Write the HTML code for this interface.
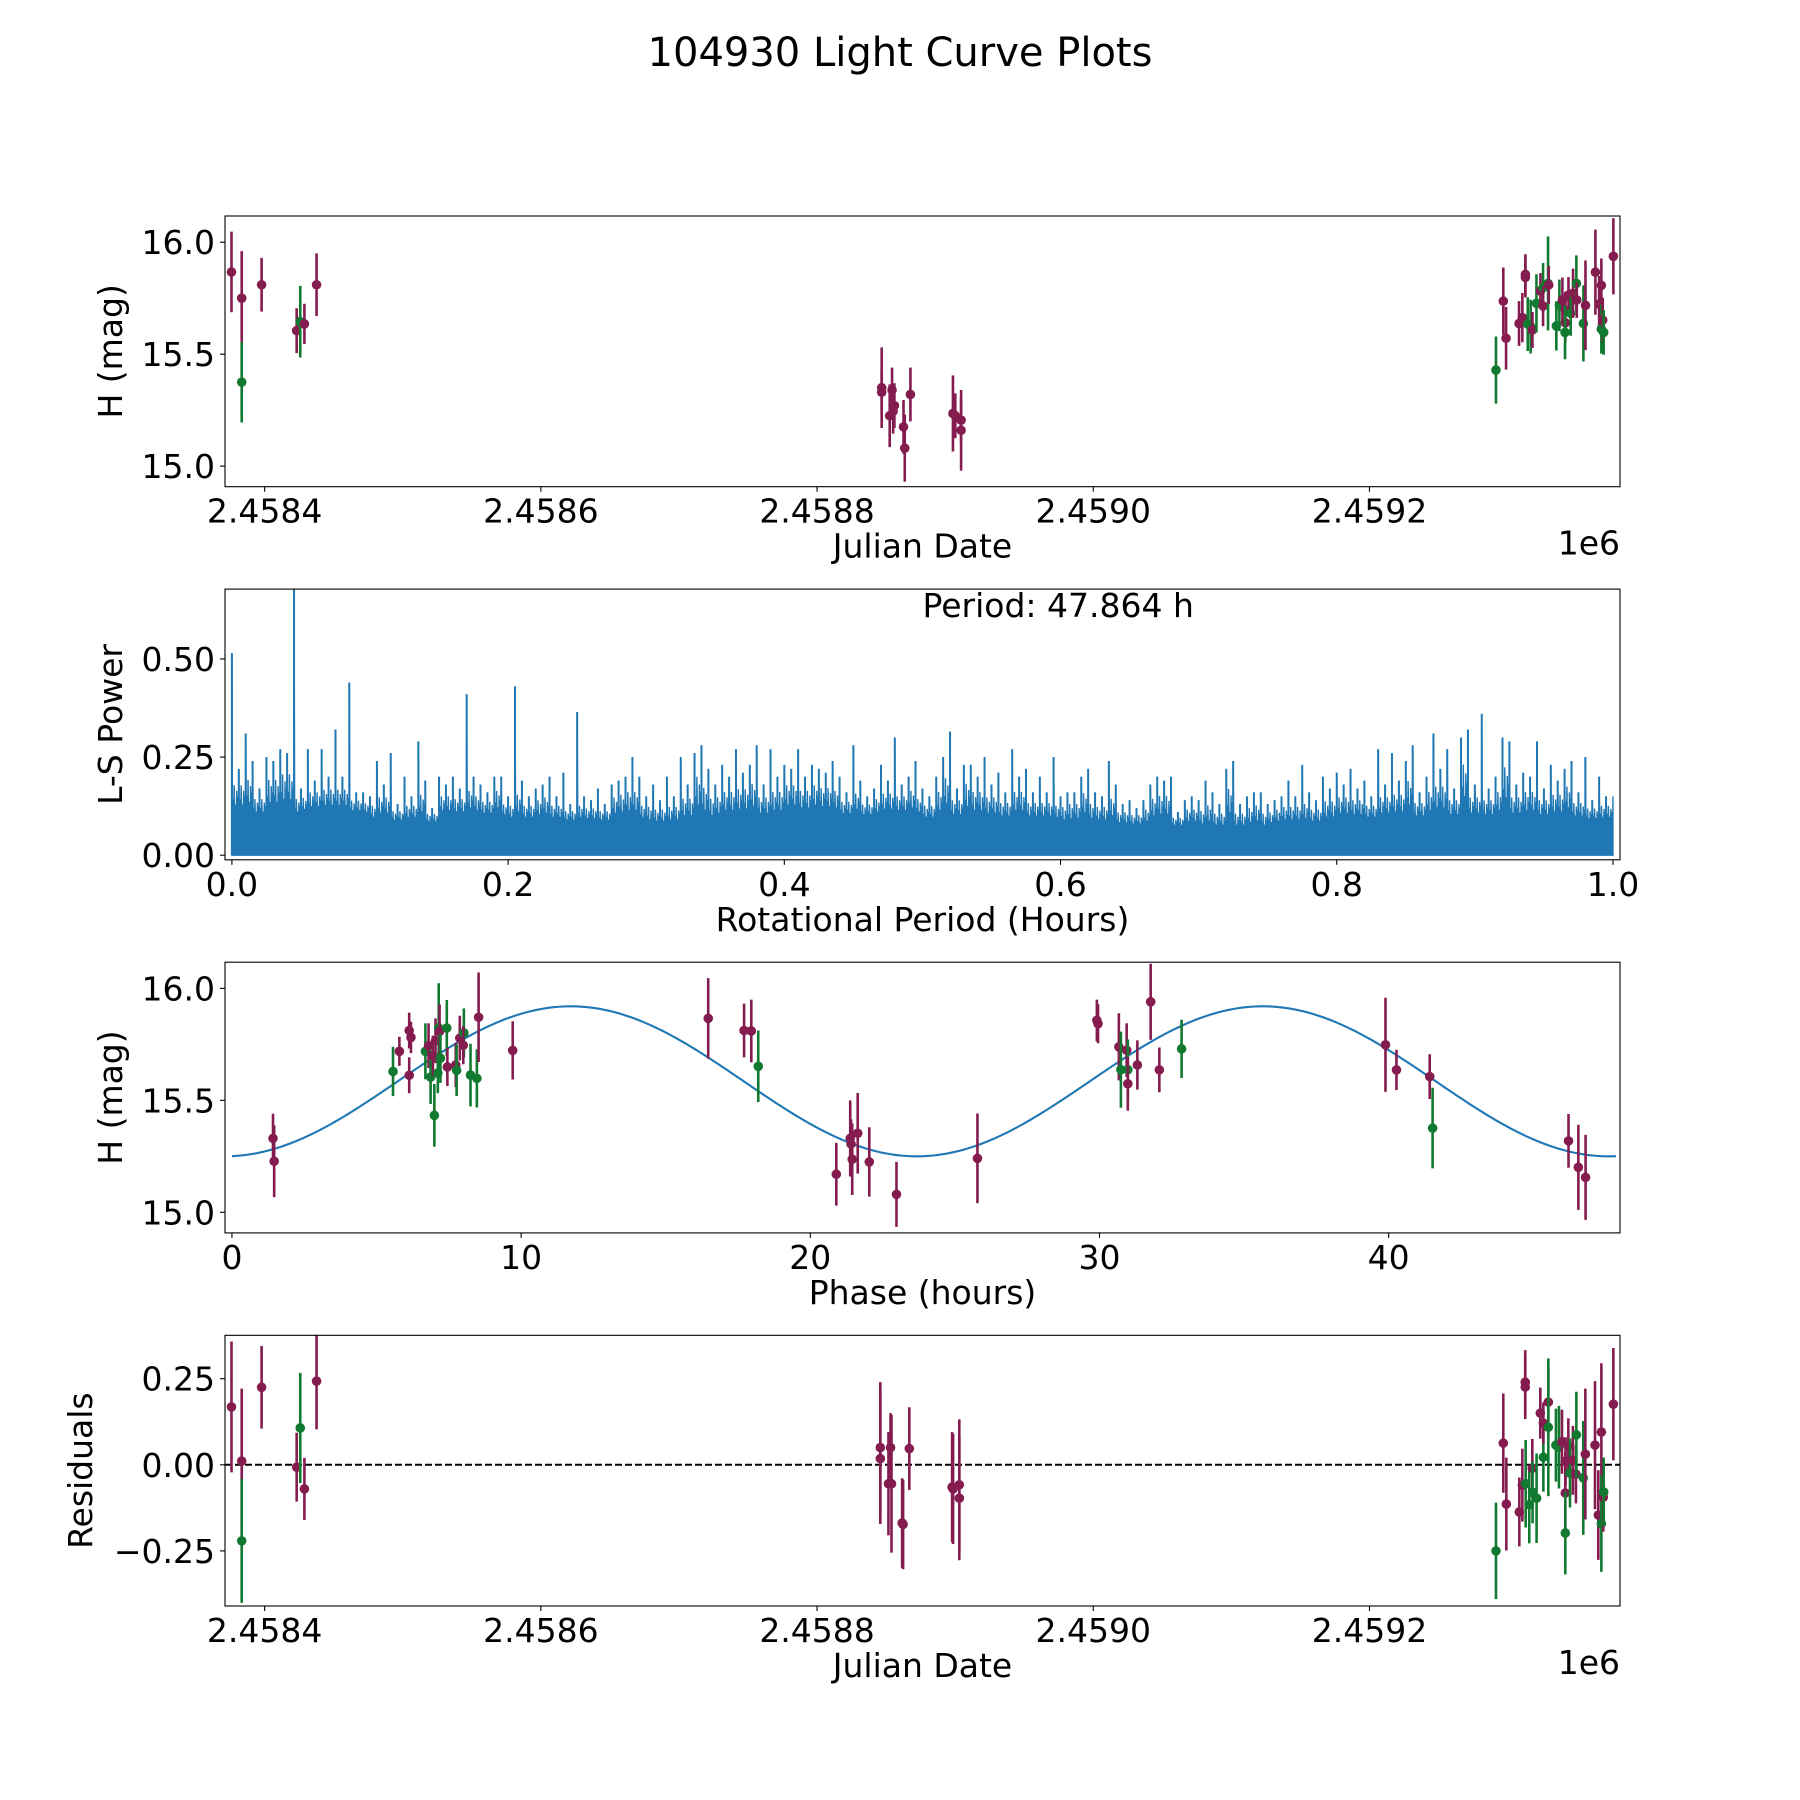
<!DOCTYPE html>
<html><head><meta charset="utf-8"><title>104930 Light Curve Plots</title>
<style>html,body{margin:0;padding:0;background:#fff}svg{display:block}text{font-family:"DejaVu Sans","Liberation Sans",sans-serif;fill:#000}</style>
</head><body>
<svg id="fig" xmlns="http://www.w3.org/2000/svg" width="1800" height="1800" viewBox="0 0 1800 1800">
<rect x="0" y="0" width="1800" height="1800" fill="#fff"/>
<text x="900" y="66" font-size="40" text-anchor="middle">104930 Light Curve Plots</text>
</svg>
<script>
// ---------- Panel 1 data: light curve ----------
const lcJD = [2458376.0,2458383.4,2458383.4,2458397.8,2458423.2,2458425.8,2458428.8,2458437.6,
 2458846.8,2458846.8,2458852.6,2458854.3,2458855.1,2458856.0,2458862.6,2458863.5,2458867.6,2458898.4,2458900.1,2458904.3,2458904.3,
 2459291.6,2459296.9,2459298.9,2459308.3,2459310.7,2459312.9,2459312.9,2459314.6,2459316.7,2459318.0,2459320.9,2459323.8,2459325.7,2459325.7,2459329.3,2459329.8,
 2459335.3,2459337.5,2459339.7,2459341.8,2459341.8,2459341.6,2459344.1,2459345.7,2459347.4,2459349.8,2459350.1,2459354.9,2459356.4,2459363.6,2459366.3,2459367.9,2459367.9,2459368.9,2459369.6,2459376.6];
const lcMag = [15.867,15.75,15.375,15.81,15.605,15.645,15.635,15.81,
 15.35,15.33,15.225,15.34,15.245,15.27,15.175,15.08,15.32,15.235,15.225,15.205,15.16,
 15.429,15.737,15.571,15.637,15.663,15.856,15.843,15.634,15.623,15.608,15.727,15.782,15.797,15.715,15.816,15.809,
 15.626,15.718,15.742,15.697,15.64,15.597,15.764,15.682,15.772,15.816,15.742,15.637,15.718,15.866,15.724,15.807,15.612,15.652,15.597,15.937];
const lcErr = [0.18,0.21,0.18,0.12,0.1,0.16,0.09,0.14,
 0.18,0.1,0.14,0.1,0.1,0.1,0.12,0.15,0.12,0.17,0.1,0.1,0.18,
 0.15,0.15,0.14,0.1,0.11,0.09,0.09,0.12,0.12,0.08,0.13,0.08,0.11,0.09,0.21,0.085,
 0.11,0.115,0.1,0.08,0.09,0.12,0.08,0.1,0.11,0.125,0.08,0.17,0.2,0.19,0.125,0.12,0.11,0.1,0.1,0.17];
const lcBand = ["m","m","g","m","m","g","m","m",
 "m","m","m","m","m","m","m","m","m","m","m","m","m",
 "g","m","m","m","m","m","m","g","g","m","g","m","g","m","g","m",
 "g","g","m","m","m","g","m","g","m","g","m","g","m","m","m","m","g","m","g","m"];
const jdTicks = [2458400,2458600,2458800,2459000,2459200];
const jdTickLabels = ["2.4584","2.4586","2.4588","2.4590","2.4592"];
const magTicks = [15.0,15.5,16.0];
const magTickLabels = ["15.0","15.5","16.0"];

// ---------- Panel 2 data: periodogram ----------
const lsPeaks = [0.515,0.22,0.31,0.24,0.17,0.25,0.24,0.27,0.26,0.70,
 0.17,0.27,0.19,0.27,0.20,0.32,0.20,0.44,0.16,0.16,
 0.15,0.24,0.18,0.26,0.13,0.20,0.15,0.29,0.19,0.12,
 0.20,0.18,0.20,0.17,0.41,0.20,0.18,0.16,0.20,0.20,
 0.15,0.43,0.19,0.15,0.17,0.18,0.20,0.15,0.21,0.13,
 0.365,0.15,0.14,0.17,0.13,0.18,0.19,0.20,0.25,0.20,
 0.15,0.18,0.14,0.20,0.15,0.25,0.18,0.26,0.28,0.22,
 0.18,0.23,0.20,0.27,0.21,0.23,0.28,0.18,0.27,0.20,
 0.23,0.22,0.27,0.20,0.23,0.22,0.21,0.24,0.20,0.16,
 0.28,0.19,0.15,0.17,0.23,0.19,0.30,0.18,0.20,0.24,
 0.17,0.15,0.20,0.25,0.315,0.17,0.23,0.23,0.20,0.25,
 0.18,0.21,0.16,0.27,0.20,0.22,0.16,0.20,0.16,0.25,
 0.15,0.16,0.16,0.20,0.22,0.16,0.15,0.24,0.18,0.13,
 0.14,0.12,0.14,0.18,0.20,0.19,0.20,0.11,0.14,0.15,
 0.14,0.19,0.16,0.13,0.22,0.24,0.13,0.15,0.16,0.16,
 0.13,0.14,0.15,0.19,0.15,0.23,0.16,0.14,0.20,0.17,
 0.21,0.18,0.22,0.17,0.19,0.15,0.27,0.18,0.26,0.19,
 0.24,0.28,0.16,0.20,0.31,0.22,0.27,0.17,0.30,0.32,
 0.18,0.36,0.17,0.20,0.30,0.29,0.18,0.21,0.20,0.29,
 0.17,0.23,0.19,0.22,0.24,0.16,0.25,0.14,0.20,0.15];
const lsTroughs = [0.08,0.09,0.07,0.08,0.07,0.07,0.06,0.07,0.08,0.08,0.07,0.07,0.06,0.06,0.05,0.06,0.07,0.07,0.07,0.07];
const lsXTicks = [0.0,0.2,0.4,0.6,0.8,1.0];
const lsXTickLabels = ["0.0","0.2","0.4","0.6","0.8","1.0"];
const lsYTicks = [0.0,0.25,0.5];
const lsYTickLabels = ["0.00","0.25","0.50"];

// ---------- Panel 3 data: phased ----------
const phHours = [1.42,1.46,5.57,5.79,6.13,6.19,6.13,6.69,6.80,6.87,6.95,7.0,7.04,7.12,7.15,7.18,7.21,7.43,7.45,7.74,7.77,7.88,8.02,8.0,8.25,8.47,8.53,9.71,
 16.47,17.71,17.96,18.2,20.9,21.38,21.41,21.45,21.64,22.04,22.98,25.78,29.91,29.95,30.67,30.74,30.94,30.98,30.98,31.31,31.77,32.07,32.84,39.89,40.27,41.42,41.52,46.22,46.56,46.81];
const phMag = [15.33,15.228,15.629,15.719,15.812,15.781,15.612,15.719,15.744,15.604,15.699,15.433,15.766,15.622,15.823,15.808,15.688,15.823,15.649,15.658,15.634,15.778,15.801,15.746,15.613,15.598,15.871,15.723,
 15.866,15.812,15.81,15.652,15.17,15.33,15.305,15.237,15.353,15.225,15.08,15.241,15.857,15.842,15.739,15.637,15.724,15.637,15.574,15.658,15.94,15.636,15.73,15.748,15.636,15.606,15.376,15.319,15.201,15.156];
const phErr = [0.11,0.16,0.11,0.065,0.08,0.07,0.08,0.125,0.1,0.12,0.09,0.14,0.1,0.09,0.2,0.12,0.11,0.125,0.085,0.1,0.115,0.1,0.11,0.085,0.14,0.13,0.2,0.13,
 0.18,0.12,0.14,0.16,0.14,0.17,0.11,0.16,0.18,0.155,0.145,0.2,0.093,0.087,0.15,0.17,0.12,0.135,0.12,0.11,0.17,0.1,0.13,0.21,0.09,0.1,0.18,0.12,0.19,0.19];
const phBand = ["m","m","g","m","m","m","m","g","m","g","m","g","m","g","g","m","g","g","m","m","g","m","g","m","g","g","m","m",
 "m","m","m","g","m","m","m","m","m","m","m","m","m","m","m","g","m","g","m","m","m","m","g","m","m","m","g","m","m","m"];
const fitPeriod = 47.864;
const fitMean = 15.585;
const fitAmp = 0.335;
const fitPhaseShift = -0.25;
const phXTicks = [0,10,20,30,40];
const phXTickLabels = ["0","10","20","30","40"];

// ---------- Panel 4 data: residuals ----------
const resJD = [2458376.0,2458383.4,2458383.4,2458397.8,2458423.2,2458425.8,2458428.8,2458437.6,
 2458845.8,2458845.8,2458851.7,2458853.2,2458853.9,2458861.6,2458862.3,2458866.8,2458897.8,2458898.5,2458903.0,2458903.0,
 2459291.6,2459296.9,2459299.1,2459308.5,2459310.7,2459313.1,2459312.8,2459312.8,2459315.7,2459317.9,2459318.1,2459321.0,2459323.7,2459325.9,2459325.9,2459329.5,2459329.5,
 2459335.0,2459337.2,2459339.4,2459341.8,2459341.8,2459342.0,2459344.0,2459345.2,2459347.3,2459349.5,2459349.8,2459354.8,2459356.3,2459363.3,2459365.7,2459367.9,2459367.9,2459369.3,2459369.6,2459376.6];
const resVal = [0.168,0.011,-0.221,0.225,-0.007,0.107,-0.07,0.243,
 0.05,0.018,-0.055,0.05,-0.055,-0.169,-0.173,0.047,-0.065,-0.07,-0.058,-0.097,
 -0.25,0.063,-0.114,-0.137,-0.059,-0.055,0.24,0.226,-0.116,-0.01,-0.08,-0.097,0.15,0.022,0.121,0.182,0.109,
 0.057,0.051,0.067,-0.082,-0.198,0.01,0.055,-0.024,0.013,-0.027,0.087,-0.038,0.031,0.057,-0.146,0.095,-0.171,-0.094,-0.079,0.176];
const resErr = [0.19,0.21,0.18,0.12,0.1,0.16,0.09,0.14,
 0.19,0.19,0.15,0.1,0.2,0.13,0.13,0.12,0.16,0.16,0.19,0.18,
 0.14,0.144,0.135,0.1,0.106,0.127,0.093,0.093,0.112,0.085,0.09,0.13,0.074,0.1,0.06,0.1,0.2,
 0.106,0.12,0.093,0.12,0.12,0.07,0.08,0.1,0.1,0.085,0.125,0.165,0.19,0.186,0.13,0.2,0.14,0.1,0.1,0.163];
const resBand = ["m","m","g","m","m","g","m","m",
 "m","m","m","m","m","m","m","m","m","m","m","m",
 "g","m","m","m","m","g","m","m","g","m","g","g","m","g","m","m","g",
 "g","g","m","m","g","m","m","g","m","m","g","g","m","m","m","m","g","m","g","m"];
const resTicks = [-0.25,0.0,0.25];
const resTickLabels = ["\u22120.25","0.00","0.25"];

// ---------- drawing ----------
const NS = "http://www.w3.org/2000/svg";
const svg = document.getElementById("fig");
const COLORS = {m:"#851c50", g:"#117a30"};
const FS = 33;
const L = 225, R = 1620, H = 270.7;
const TOPS = [216, 589.1, 962.2, 1335.3];
function mk(tag, attrs, parent){const e=document.createElementNS(NS,tag);for(const k in attrs)e.setAttribute(k,attrs[k]);(parent||svg).appendChild(e);return e;}
function scale(d0,d1,r0,r1){return v=>r0+(v-d0)/(d1-d0)*(r1-r0);}

function makeAxes(idx, xlim, ylim, name){
  const top=TOPS[idx], bot=top+H;
  const g=mk("g",{});
  
  
  const cp=mk("clipPath",{id:"clip"+idx},g);
  mk("rect",{x:L,y:top,width:R-L,height:H},cp);
  const plot=mk("g",{"clip-path":"url(#clip"+idx+")"},g);
  return {g, plot, top, bot, x:scale(xlim[0],xlim[1],L,R), y:scale(ylim[0],ylim[1],bot,top)};
}
function finishAxes(ax, xt, xtl, yt, ytl){
  const frame=mk("rect",{x:L,y:ax.top,width:R-L,height:H,fill:"none",stroke:"#000","stroke-width":1.1},ax.g);
  
  
  xt.forEach((v,i)=>{
    const px=ax.x(v);
    mk("line",{x1:px,x2:px,y1:ax.bot,y2:ax.bot+5,stroke:"#000","stroke-width":1.1},ax.g);
    const t=mk("text",{x:px,y:ax.bot+36,"font-size":FS,"text-anchor":"middle"},ax.g);
    t.textContent=xtl[i];
    
    
  });
  yt.forEach((v,i)=>{
    const py=ax.y(v);
    mk("line",{x1:L-5,x2:L,y1:py,y2:py,stroke:"#000","stroke-width":1.1},ax.g);
    const t=mk("text",{x:L-10,y:py+12,"font-size":FS,"text-anchor":"end"},ax.g);
    t.textContent=ytl[i];
    
    
  });
}
function axisLabels(ax, xlab, ylab, ylabX){
  const t=mk("text",{x:(L+R)/2,y:ax.bot+71,"font-size":FS,"text-anchor":"middle"},ax.g);
  t.textContent=xlab;
  
  
  const cy=(ax.top+ax.bot)/2;
  const u=mk("text",{x:ylabX,y:cy,"font-size":FS,"text-anchor":"middle",transform:"rotate(-90 "+ylabX+" "+cy+")"},ax.g);
  u.textContent=ylab;
  
  
}
function errPoints(ax, xs, ys, es, bands){
  xs.forEach((xv,i)=>{
    const c=COLORS[bands[i]], px=ax.x(xv);
    const ln=mk("line",{x1:px,x2:px,y1:ax.y(ys[i]-es[i]),y2:ax.y(ys[i]+es[i]),stroke:c,"stroke-width":2.6},ax.plot);
    
    
    const pt=mk("circle",{cx:px,cy:ax.y(ys[i]),r:4.8,fill:c},ax.plot);
    
    
  });
}
function exponentLabel(ax){
  const t=mk("text",{x:R,y:ax.bot+68,"font-size":FS,"text-anchor":"end"},ax.g);
  t.textContent="1e6";
  
  
}

// Panel 1
const JDLIM=[2458371.3,2459381.4], MAGLIM=[14.908,16.117];
const a1=makeAxes(0,JDLIM,MAGLIM,"light-curve-panel");
errPoints(a1,lcJD,lcMag,lcErr,lcBand);
finishAxes(a1,jdTicks,jdTickLabels,magTicks,magTickLabels);
axisLabels(a1,"Julian Date","H (mag)",122);
exponentLabel(a1);

// Panel 2
const a2=makeAxes(1,[-0.005,1.0051],[-0.0117,0.678],"periodogram-panel");
(function(){
  const n=lsPeaks.length;
  const subs=[0.45,0.7,0.35,0.6,0.5];
  let d="M"+a2.x(0)+","+a2.y(0);
  for(let i=0;i<n;i++){
    const xp=i/n, tr=lsTroughs[Math.floor(i*lsTroughs.length/n)];
    const nxt=lsPeaks[Math.min(i+1,n-1)];
    d+=" L"+a2.x(xp)+","+a2.y(lsPeaks[i]);
    for(let k=0;k<subs.length;k++){
      const xs=xp+(k+0.5)/(subs.length+0.5)/n;
      d+=" L"+a2.x(xs)+","+a2.y(tr*0.6);
      d+=" L"+a2.x(xs+0.06/n)+","+a2.y(tr+subs[k]*(Math.min(lsPeaks[i],nxt)-tr));
    }
    d+=" L"+a2.x(xp+0.97/n)+","+a2.y(tr*0.7);
  }
  d+=" L"+a2.x(1)+","+a2.y(0.15)+" L"+a2.x(1)+","+a2.y(0)+" Z";
  const fill=mk("path",{d:d,fill:"#1f77b4",stroke:"#1f77b4","stroke-width":1.4,"stroke-linejoin":"miter"},a2.plot);
  
  
  for(let i=0;i<n;i++){
    const sp=mk("line",{x1:a2.x(i/n),x2:a2.x(i/n),y1:a2.y(0),y2:a2.y(lsPeaks[i]),stroke:"#1f77b4","stroke-width":2},a2.plot);
    
    
  }
  const base=mk("rect",{x:a2.x(0),y:a2.y(0.06),width:a2.x(1)-a2.x(0),height:a2.y(0)-a2.y(0.06),fill:"#1f77b4"},a2.plot);
  
  
})();
finishAxes(a2,lsXTicks,lsXTickLabels,lsYTicks,lsYTickLabels);
axisLabels(a2,"Rotational Period (Hours)","L-S Power",122);
(function(){
  const t=mk("text",{x:(L+R)/2,y:a2.top+28,"font-size":FS,"text-anchor":"start"},a2.g);
  t.textContent="Period: 47.864 h";
  
  
})();

// Panel 3
const a3=makeAxes(2,[-0.24,48.0],MAGLIM,"phased-panel");
(function(){
  let d="";
  for(let k=0;k<=400;k++){
    const p=fitPeriod*k/400;
    const m=fitMean-fitAmp*Math.cos(4*Math.PI*(p-fitPhaseShift)/fitPeriod);
    d+=(k?" L":"M")+a3.x(p).toFixed(2)+","+a3.y(m).toFixed(2);
  }
  const c=mk("path",{d:d,fill:"none",stroke:"#1f77b4","stroke-width":2.1},a3.plot);
  
  
})();
errPoints(a3,phHours,phMag,phErr,phBand);
finishAxes(a3,phXTicks,phXTickLabels,magTicks,magTickLabels);
axisLabels(a3,"Phase (hours)","H (mag)",122);

// Panel 4
const a4=makeAxes(3,JDLIM,[-0.410,0.376],"residuals-panel");
(function(){
  const z=mk("line",{x1:L,x2:R,y1:a4.y(0),y2:a4.y(0),stroke:"#000","stroke-width":2,"stroke-dasharray":"7,3"},a4.plot);
  
  
})();
errPoints(a4,resJD,resVal,resErr,resBand);
finishAxes(a4,jdTicks,jdTickLabels,resTicks,resTickLabels);
axisLabels(a4,"Julian Date","Residuals",92);
exponentLabel(a4);
</script>
</body></html>
